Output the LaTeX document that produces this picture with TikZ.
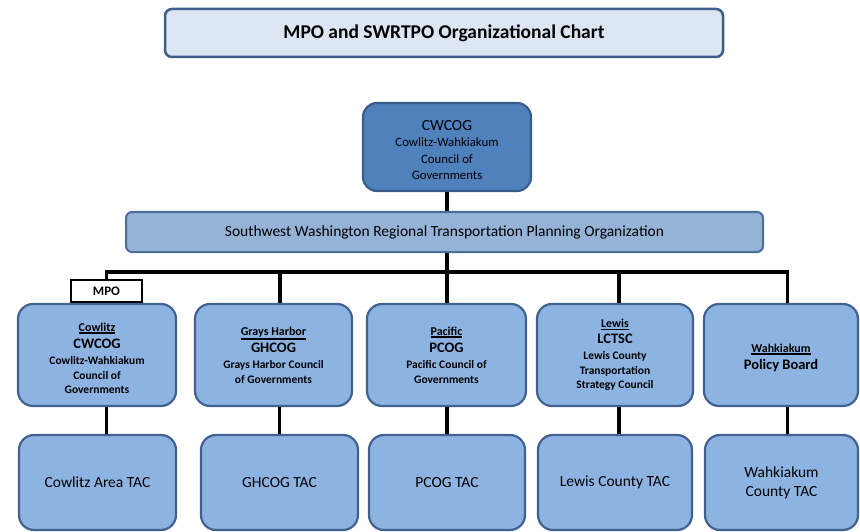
\documentclass[tikz,border=0pt]{standalone}
\usepackage{fontspec}
\setmainfont{Carlito}
\usetikzlibrary{calc}
\definecolor{titlefill}{HTML}{DCE6F2}
\definecolor{titledraw}{HTML}{3B5E8A}
\definecolor{topfill}{HTML}{4F81BD}
\definecolor{topdraw}{HTML}{385D8A}
\definecolor{barfill}{HTML}{95B3D7}
\definecolor{bardraw}{HTML}{4A6E9A}
\definecolor{boxfill}{HTML}{8DB3E2}
\definecolor{boxdraw}{HTML}{41628F}
\tikzset{
  base/.style={rectangle, align=center, inner sep=0pt, text=black},
  titlebox/.style={base, fill=titlefill, draw=titledraw, line width=2.5pt, rounded corners=7pt},
  topbox/.style={base, fill=topfill, draw=topdraw, line width=2.2pt, rounded corners=14pt},
  barbox/.style={base, fill=barfill, draw=bardraw, line width=2pt, rounded corners=6pt},
  orgbox/.style={base, fill=boxfill, draw=boxdraw, line width=2.2pt, rounded corners=15pt, minimum height=102pt},
  tacbox/.style={base, fill=boxfill, draw=boxdraw, line width=2.2pt, rounded corners=15pt, minimum height=95pt,
    font=\fontsize{15.5}{19}\selectfont},
  mpobox/.style={base, fill=white, draw=black, line width=2.5pt, font=\fontsize{13}{14}\selectfont\bfseries},
  conn/.style={draw=black, line width=3.5pt},
  sub/.style={font=\fontsize{11.5}{14.5}\selectfont\bfseries},
}
\newcommand{\bigname}[1]{{\fontsize{14.5}{16}\selectfont #1}}
\newcommand{\uname}[1]{\setbox0\hbox{\fontsize{12}{14}\selectfont\bfseries #1}\vtop{\copy0\kern1.2pt\hrule height 1.3pt width \wd0}}
\begin{document}
\begin{tikzpicture}[x=1pt,y=-1pt]
\useasboundingbox (0,0) rectangle (860,532);
% bus coordinate
\coordinate (bus) at (447,272);
% boxes
\node[titlebox, minimum width=558pt, minimum height=48pt, font=\fontsize{19.5}{22}\selectfont\bfseries] (title) at (444,33) {MPO and SWRTPO Organizational Chart};
\node[topbox, minimum width=168pt, minimum height=88pt, font=\fontsize{12.8}{16.3}\selectfont] (top) at (447,147) {{\fontsize{15.5}{16.3}\selectfont\rule{0pt}{16pt}CWCOG}\\Cowlitz-Wahkiakum\\Council of\\Governments};
% connector top -> bus (behind bar)
\draw[conn] (top.south) -- (bus);
\node[barbox, minimum width=637pt, minimum height=40pt, font=\fontsize{15.5}{17}\selectfont] (bar) at (444.5,232) {Southwest Washington Regional Transportation Planning Organization};

\node[orgbox, minimum width=158pt, sub] (cw) at (97,355) {\rule{0pt}{15pt}\uname{Cowlitz}\\[3pt]\bigname{CWCOG}\\[1.5pt]Cowlitz-Wahkiakum\\Council of\\Governments};
\node[orgbox, minimum width=157pt, sub] (gh) at (273.5,355) {\uname{Grays Harbor}\\[3pt]\bigname{GHCOG}\\[1.5pt]Grays Harbor Council\\of Governments};
\node[orgbox, minimum width=159pt, sub] (pc) at (446.5,355) {\uname{Pacific}\\[3pt]\bigname{PCOG}\\[1.5pt]Pacific Council of\\Governments};
\node[orgbox, minimum width=156pt, sub] (lw) at (615,355) {\uname{Lewis}\\[1.5pt]\bigname{LCTSC}\\[1.5pt]Lewis County\\Transportation\\Strategy Council};
\node[orgbox, minimum width=154pt, sub] (wk) at (781,355) {\rule{0pt}{14pt}\uname{Wahkiakum}\\[3pt]\bigname{Policy Board}};

\node[mpobox, minimum width=71pt, minimum height=22pt] (mpo) at (106.5,291) {MPO};

\node[tacbox, minimum width=157pt] (ctac) at (97.5,482.5) {Cowlitz Area TAC};
\node[tacbox, minimum width=157pt] (gtac) at (279.5,482.5) {GHCOG TAC};
\node[tacbox, minimum width=156pt] (ptac) at (447,482.5) {PCOG TAC};
\node[tacbox, minimum width=154pt] (ltac) at (615,482.5) {Lewis County TAC};
\node[tacbox, minimum width=153pt] (wtac) at (781.5,482.5) {Wahkiakum\\County TAC};

% connectors bus -> level 2
\draw[conn] (mpo.north) |- (bus);
\draw[conn] ($(gh.north)+(6.5,0)$) |- (bus);
\draw[conn] (pc.north -| bus) -- (bus);
\draw[conn] ($(lw.north)+(4,0)$) |- (bus);
\draw[conn] ($(wk.north)+(6.5,0)$) |- (bus);
% connectors level 2 -> TAC
\draw[conn] (cw.south -| mpo.south) -- (ctac.north -| mpo.south);
\draw[conn] (gh.south -| gtac.north) -- (gtac.north);
\draw[conn] (pc.south -| ptac.north) -- (ptac.north);
\draw[conn] ($(lw.south)+(4,0)$) -- ($(ltac.north)+(4,0)$);
\draw[conn] ($(wk.south)+(6.5,0)$) -- ($(wtac.north)+(6,0)$);
\end{tikzpicture}
\end{document}
